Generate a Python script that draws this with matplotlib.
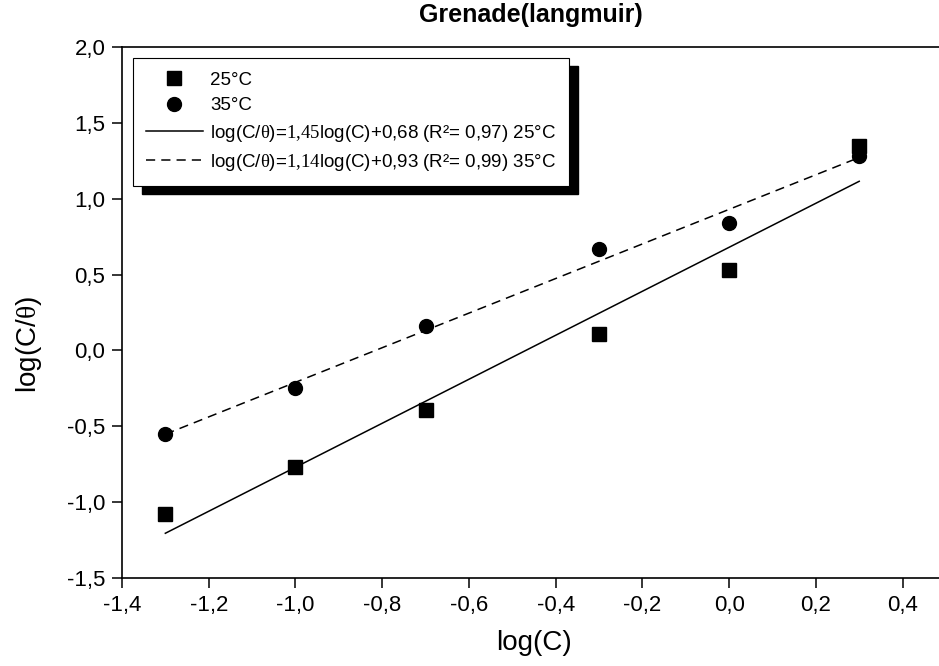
import matplotlib.pyplot as plt
import numpy as np
from matplotlib.patches import Rectangle

plt.rcParams['font.family'] = ['Liberation Sans', 'DejaVu Sans']
plt.rcParams['mathtext.fontset'] = 'custom'
plt.rcParams['mathtext.rm'] = 'Liberation Serif'

# data
logC = [-1.3, -1.0, -0.7, -0.3, 0.0, 0.3]
y25 = [-1.08, -0.77, -0.39, 0.11, 0.53, 1.35]
y35 = [-0.55, -0.25, 0.16, 0.67, 0.84, 1.28]

fit25 = (1.45, 0.68)
fit35 = (1.14, 0.93)

xticks = [-1.4, -1.2, -1.0, -0.8, -0.6, -0.4, -0.2, 0.0, 0.2, 0.4]
yticks = [-1.5, -1.0, -0.5, 0.0, 0.5, 1.0, 1.5, 2.0]

fig = plt.figure(figsize=(9.39, 6.66), dpi=100)
ax = fig.add_axes([0.1299, 0.1321, 0.8775, 0.7973])

xf = np.array([logC[0], logC[-1]])
ax.plot(logC, y25, 's', color='black', ms=10, label='25°C')
ax.plot(logC, y35, 'o', color='black', ms=10, label='35°C')
ax.plot(xf, fit25[0] * xf + fit25[1], '-', color='black', lw=1.1,
        label=r'log(C/$\mathrm{θ}$)=$\mathrm{1{,}45}$log(C)+0,68 (R²= 0,97) 25°C')
ax.plot(xf, fit35[0] * xf + fit35[1], '--', color='black', lw=1.1, dashes=(6, 4),
        label=r'log(C/$\mathrm{θ}$)=$\mathrm{1{,}14}$log(C)+0,93 (R²= 0,99) 35°C')

ax.set_xlim(-1.4, 0.5)
ax.set_ylim(-1.5, 2.0)
ax.set_xticks(xticks)
ax.set_yticks(yticks)
ax.set_xticklabels([f'{t:.1f}'.replace('.', ',') for t in xticks])
ax.set_yticklabels([f'{t:.1f}'.replace('.', ',') for t in yticks])
ax.tick_params(direction='out', length=7, width=1.1, labelsize=16, pad=5)
ax.spines['right'].set_visible(False)
for s in ['left', 'bottom', 'top']:
    ax.spines[s].set_linewidth(1.2)

ax.set_xlabel('log(C)', fontsize=20, labelpad=10)
ax.set_ylabel(r'log(C/$\mathrm{θ}$)', fontsize=20)
ax.yaxis.set_label_coords(-0.095, 0.44)
fig.text(0.565, 0.978, 'Grenade(langmuir)', fontsize=18, fontweight='bold',
         ha='center', va='center')

leg = ax.legend(loc='upper left', bbox_to_anchor=(0.0, 1.0), fontsize=13.5,
                frameon=True, fancybox=False, edgecolor='black', framealpha=1,
                handlelength=3.0, handletextpad=0.4, labelspacing=0.45,
                borderpad=0.7, borderaxespad=0.6)
leg.get_frame().set_linewidth(0.8)
leg.set_zorder(5)

# thick offset shadow behind the legend box
fig.canvas.draw()
bb = leg.get_window_extent().transformed(fig.transFigure.inverted())
dx, dy = 9 / 939, 8 / 666
shadow = Rectangle((bb.x0 + dx, bb.y0 - dy), bb.width, bb.height,
                   transform=fig.transFigure, color='black', zorder=4,
                   clip_on=False)
ax.add_artist(shadow)

fig.savefig('out.png', dpi=100)
